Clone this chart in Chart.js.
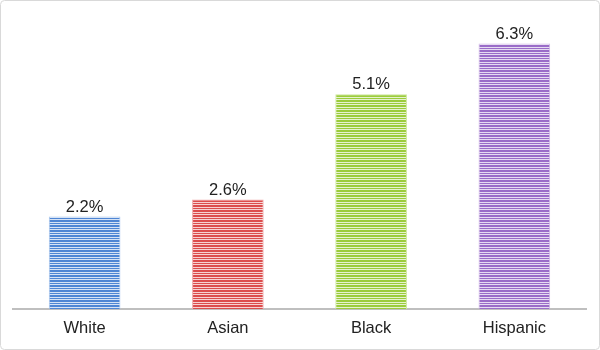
<!DOCTYPE html>
<html>
<head>
<meta charset="utf-8">
<script src="https://cdn.jsdelivr.net/npm/chart.js@4.4.0/dist/chart.umd.min.js"></script>
<style>
  html, body { margin: 0; padding: 0; background: #fff; }
  #wrap { width: 600px; height: 350px; }
</style>
</head>
<body>
<div id="wrap"><canvas id="chart" width="600" height="350"></canvas></div>
<script>
// ===== DATA =====
const groups = ['White', 'Asian', 'Black', 'Hispanic'];
const rates = [2.2, 2.6, 5.1, 6.3];
const barColors = ['#4f86d4', '#dc4d4d', '#9bcc3c', '#9a6cc8'];
const gapColors = ['#d6e3f5', '#f6d2d2', '#e6f2cf', '#e6dbf2'];
const edgeColors = ['#a9c6ec', '#efaaaa', '#cde69d', '#cfb8e6'];

// dense horizontal stripe fill, like the original
function stripes(color, gap) {
  const c = document.createElement('canvas');
  c.width = 4;
  c.height = 5;
  const g = c.getContext('2d');
  g.fillStyle = gap;
  g.fillRect(0, 0, 4, 5);
  g.fillStyle = color;
  g.fillRect(0, 0, 4, 2);
  g.fillRect(0, 3, 4, 1);
  return g.createPattern(c, 'repeat');
}

// value labels above each bar
const valueLabels = {
  id: 'valueLabels',
  afterDatasetsDraw(chart) {
    const ctx = chart.ctx;
    const meta = chart.getDatasetMeta(0);
    ctx.save();
    ctx.font = '16.5px "Liberation Sans", Arial, sans-serif';
    ctx.fillStyle = '#222';
    ctx.textAlign = 'center';
    ctx.textBaseline = 'bottom';
    meta.data.forEach((bar, i) => {
      ctx.fillText(rates[i].toFixed(1) + '%', bar.x, bar.y - 1);
    });
    ctx.restore();
  }
};

// light frame round the whole picture
const frame = {
  id: 'frame',
  afterDraw(chart) {
    const ctx = chart.ctx;
    ctx.save();
    ctx.strokeStyle = '#d9d9d9';
    ctx.lineWidth = 1;
    ctx.beginPath();
    ctx.roundRect(0.5, 0.5, chart.width - 1, chart.height - 1, 4);
    ctx.stroke();
    ctx.restore();
  }
};

new Chart(document.getElementById('chart'), {
  type: 'bar',
  data: {
    labels: groups,
    datasets: [{
      data: rates,
      backgroundColor: barColors.map((c, i) => stripes(c, gapColors[i])),
      borderColor: edgeColors,
      borderWidth: 1,
      barPercentage: 0.5,
      categoryPercentage: 1
    }]
  },
  options: {
    responsive: false,
    animation: false,
    layout: { padding: { left: 13, right: 14, top: 14, bottom: 3 } },
    plugins: {
      legend: { display: false },
      tooltip: { enabled: false }
    },
    scales: {
      x: {
        grid: { display: false, drawTicks: false },
        border: { color: '#bfbfbf', width: 2 },
        ticks: {
          color: '#222',
          padding: 9,
          font: { family: '"Liberation Sans", Arial, sans-serif', size: 16.5 }
        }
      },
      y: {
        display: false,
        min: 0,
        max: 7
      }
    }
  },
  plugins: [valueLabels, frame]
});
</script>
</body>
</html>
